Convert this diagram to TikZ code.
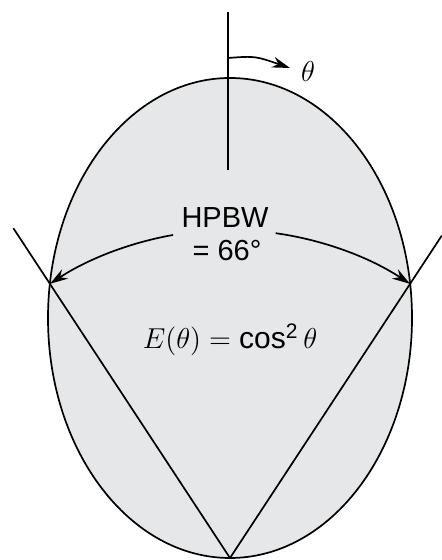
\documentclass[tikz,border=0pt]{standalone}
\usepackage{amsmath}
\usepackage{fontspec}
\setmainfont{Liberation Sans}
\usepackage{xcolor}
\usepackage{tikz}
\usetikzlibrary{arrows.meta, calc}

\definecolor{lobe}{RGB}{229,231,232}

\begin{document}
\begin{tikzpicture}[x=0.5pt, y=0.5pt,
  line/.style={line width=0.85pt},
  tip/.style={-{Stealth[length=9pt, width=5.5pt]}},
  lbl/.style={inner sep=0pt, font=\fontsize{14.5}{17}\selectfont}]
  \useasboundingbox (0,0) rectangle (441,560);
  % lobe of the pattern, origin at its bottom
  \coordinate (origin) at (230,2);
  \draw[line, fill=lobe] (230,242) ellipse [x radius=182, y radius=240];
  % half power points and the two lines through them
  \coordinate (hpl)  at ($(origin)+(123.3:328)$);
  \coordinate (hpr)  at ($(origin)+(56.7:328)$);
  \coordinate (lend) at ($(origin)!1.203!(hpl)$);
  \coordinate (rend) at ($(origin)!1.176!(hpr)$);
  \draw[line] (origin) -- (lend);
  \draw[line] (origin) -- (rend);
  % axis and angle arrow
  \coordinate (axtop) at (228,548);
  \coordinate (axbot) at (228,390);
  \coordinate (thstart) at (228,502);
  \coordinate (thend) at (290,492);
  \draw[line] (axtop) -- (axbot);
  \draw[line, tip] (thstart) .. controls (255,504) .. (thend);
  \node[lbl, font=\fontsize{15}{17}\selectfont] (theta) at (308,488) {$\theta$};
  % beamwidth labels and arcs
  \node[lbl, anchor=base] (hpbw) at (225,332) {HPBW};
  \node[lbl, anchor=base] (deg) at (227,299) {= 66°};
  \coordinate (arcl) at ($(origin)+(100:328)$);
  \coordinate (arcr) at ($(origin)+(82:328)$);
  \draw[line, tip] (arcl) arc[start angle=100, end angle=123.3, radius=328];
  \draw[line, tip] (arcr) arc[start angle=82, end angle=56.7, radius=328];
  % pattern formula
  \node[lbl, anchor=base, font=\fontsize{15}{17}\selectfont] (pat) at (230,211)
    {$E(\theta) = \text{cos}^{\text{2}}\,\theta$};
\end{tikzpicture}
\end{document}
